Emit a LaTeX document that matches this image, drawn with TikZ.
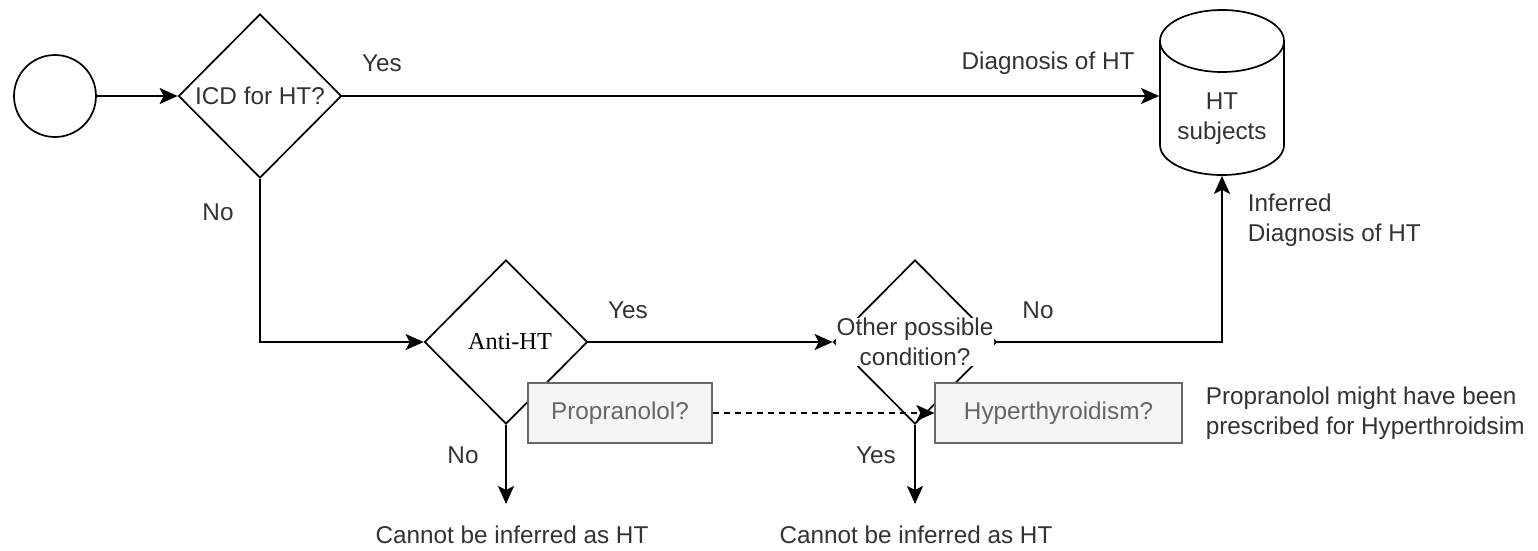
\documentclass[tikz,border=0pt]{standalone}
\usepackage{fontspec}
\setmainfont{Liberation Sans}
\newfontfamily\timesfont{Liberation Serif}
\usetikzlibrary{shapes.geometric,arrows.meta}
\definecolor{ink}{HTML}{333333}
\definecolor{boxfill}{HTML}{F5F5F5}
\definecolor{boxline}{HTML}{666666}
\begin{document}
\begin{tikzpicture}[x=1pt,y=-1pt,
  font=\fontsize{24.3}{30}\selectfont,
  line width=1.7pt,
  >={Stealth[length=18pt,width=16pt,inset=4pt]},
  decision/.style={diamond, draw, minimum width=163pt, minimum height=164pt, inner sep=0pt},
  lbl/.style={text=ink, inner sep=0pt, align=left},
  note/.style={draw=boxline, fill=boxfill, text=boxline, line width=1.2pt, inner sep=0pt, minimum height=60pt},
  hint/.style={dash pattern=on 6pt off 5pt, line width=1.3pt}
]
\useasboundingbox[fill=white] (0,0) rectangle (1538,550);

% start and decisions
\node[circle, draw, minimum size=82pt, inner sep=0pt] (start) at (55,96) {};
\node[decision] (icd) at (260,96) {};
\node[lbl] (icdtxt) at (260,96) {ICD for HT?};
\node[decision] (anti) at (506,342) {};
\node[inner sep=0pt] (antitxt) at (510,342) {\timesfont Anti-HT};
\node[decision] (other) at (915,342) {};
\node[lbl, fill=white, align=center, inner sep=0.5pt] (othertxt) at (915,342) {Other possible\\condition?};

% data store
\node[minimum width=124pt, minimum height=167pt, inner sep=0pt] (cyl) at (1222,91.5) {};
\draw[fill=white] (1160,41) -- (1160,145) arc[start angle=180, end angle=360, x radius=62pt, y radius=30pt] -- (1284,41);
\draw[fill=white] (1222,41) ellipse [x radius=62pt, y radius=31pt];
\node[lbl, align=center] (cyltxt) at (1222,119) {HT\\subjects};

% end points
\coordinate (endA) at (506,504);
\coordinate (endB) at (915,504);

% connectors
\draw[->] (start.east) -- (icd.west);
\draw[->] (icd.east) -- (icd.east -| cyl.west);
\draw[->] (icd.south) |- (anti.west);
\draw[->] (anti.east) -- (other.west);
\draw[->] (other.east) -| (cyl.south);
\draw[->] (anti.south) -- (endA);
\draw[->] (other.south) -- (endB);

% drug / condition notes
\node[note, minimum width=184pt] (drug) at (620,413) {Propranolol?};
\node[note, minimum width=247pt] (cond) at (1058.5,413) {Hyperthyroidism?};
\draw[hint, ->] (drug.east) -- (cond.west);

% labels
\node[lbl] (yes1) at (382,63) {Yes};
\node[lbl] (diag) at (1048,63) {Diagnosis of HT};
\node[lbl] (no1) at (218,212) {No};
\node[lbl, anchor=west] (infer) at (1247,220) {Inferred\\Diagnosis of HT};
\node[lbl] (yes2) at (628,310) {Yes};
\node[lbl] (no2) at (1038,310) {No};
\node[lbl] (no3) at (463,455) {No};
\node[lbl] (yes3) at (876,455) {Yes};
\node[lbl] (outA) at (512,535) {Cannot be inferred as HT};
\node[lbl] (outB) at (916,535) {Cannot be inferred as HT};
\node[lbl, anchor=west] (remark) at (1205,413) {Propranolol might have been\\prescribed for Hyperthroidsim};
\end{tikzpicture}
\end{document}
